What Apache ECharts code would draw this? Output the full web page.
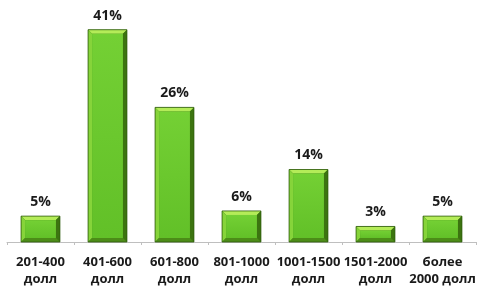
<!DOCTYPE html>
<html>
<head>
<meta charset="utf-8">
<script src="https://cdn.jsdelivr.net/npm/echarts@6/dist/echarts.min.js"></script>
<style>
  html, body { margin: 0; padding: 0; background: #fff; }
  #main { width: 480px; height: 289px; }
</style>
</head>
<body>
<div id="main"></div>
<script>
// price ranges and share of answers, %
var categories = ['201-400\nдолл', '401-600\nдолл', '601-800\nдолл', '801-1000\nдолл',
                  '1001-1500\nдолл', '1501-2000\nдолл', 'более\n2000 долл'];
var shares = [5, 41, 26, 6, 14, 3, 5];

var font = '"Open Sans", "DejaVu Sans", sans-serif';

// bevelled green bar
function renderBar(params, api) {
    var i = api.value(0);
    var top = api.coord([i, api.value(1)]);
    var base = api.coord([i, 0]);
    var w = api.size([1, 0])[0] * 0.58;
    var x0 = top[0] - w / 2, x1 = top[0] + w / 2;
    var y0 = top[1], y1 = base[1];
    var b = Math.min(4, (y1 - y0) / 3);
    return {
        type: 'group',
        children: [
            { type: 'rect', shape: { x: x0, y: y0, width: w, height: y1 - y0 },
              style: { fill: '#3f7a12' } },
            // top bevel
            { type: 'polygon', shape: { points: [[x0, y0], [x1, y0], [x1 - b, y0 + b], [x0 + b, y0 + b]] },
              style: { fill: '#b4ec58' } },
            // left bevel
            { type: 'polygon', shape: { points: [[x0, y0], [x0 + b, y0 + b], [x0 + b, y1 - b], [x0, y1]] },
              style: { fill: '#86d43a' } },
            // right bevel
            { type: 'polygon', shape: { points: [[x1, y0], [x1, y1], [x1 - b, y1 - b], [x1 - b, y0 + b]] },
              style: { fill: '#3c7410' } },
            // bottom bevel
            { type: 'polygon', shape: { points: [[x0, y1], [x1, y1], [x1 - b, y1 - b], [x0 + b, y1 - b]] },
              style: { fill: '#4c8c18' } },
            // face
            { type: 'rect', shape: { x: x0 + b, y: y0 + b, width: w - 2 * b, height: y1 - y0 - 2 * b },
              style: { fill: new echarts.graphic.LinearGradient(0, 0, 0, 1, [
                  { offset: 0, color: '#74d034' }, { offset: 1, color: '#62c028' }]) } },
            { type: 'rect', shape: { x: x0, y: y0, width: w, height: y1 - y0 },
              style: { fill: null, stroke: '#2f5c0c', lineWidth: 0.8 } },
            { type: 'text', x: top[0], y: y0 - 7,
              style: { text: api.value(1) + '%', fill: '#1a1a1a', font: 'bold 14px ' + font,
                       align: 'center', verticalAlign: 'bottom' } }
        ]
    };
}

var chart = echarts.init(document.getElementById('main'));
chart.setOption({
    animation: false,
    grid: { left: 7, right: 4, top: 9, bottom: 47 },
    xAxis: {
        type: 'category',
        data: categories,
        axisLine: { lineStyle: { color: '#bfbfbf', width: 1 } },
        axisTick: { show: true, alignWithLabel: false, length: 3, lineStyle: { color: '#bfbfbf' } },
        axisLabel: {
            interval: 0, margin: 12, color: '#1a1a1a', fontFamily: font,
            fontSize: 13, fontWeight: 'bold', lineHeight: 17
        }
    },
    yAxis: { type: 'value', min: 0, max: 45, show: false, splitLine: { show: false } },
    series: [{
        type: 'custom',
        renderItem: renderBar,
        data: shares.map(function (v, i) { return [i, v]; })
    }]
});
</script>
</body>
</html>
